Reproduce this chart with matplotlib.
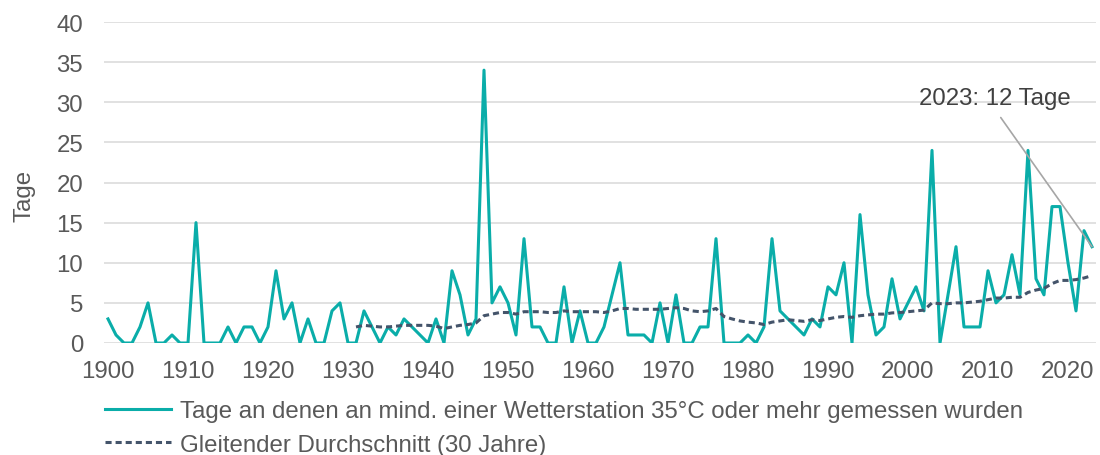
import matplotlib.pyplot as plt
import numpy as np

# Tage mit >= 35 °C an mind. einer Station, 1900-2023
years = np.arange(1900, 2024)
tage = [
    # 1900-1930
    3, 1, 0, 0, 2, 5, 0, 0, 1, 0, 0, 15, 0, 0, 0, 2, 0, 2, 2, 0,
    2, 9, 3, 5, 0, 3, 0, 0, 4, 5, 0,
    # 1931-1959
    0, 4, 2, 0, 2, 1, 3, 2, 1, 0, 3, 0, 9, 6, 1, 3, 34, 5, 7, 5,
    1, 13, 2, 2, 0, 0, 7, 0, 4,
    # 1960-1985
    0, 0, 2, 6, 10, 1, 1, 1, 0, 5, 0, 6, 0, 0, 2, 2, 13, 0, 0, 0,
    1, 0, 2, 13, 4, 3,
    # 1986-2023
    2, 1, 3, 2, 7, 6, 10, 0, 16, 6, 1, 2, 8, 3, 5, 7, 4, 24, 0, 6,
    12, 2, 2, 2, 9, 5, 6, 11, 6, 24, 8, 6, 17, 17, 10, 4, 14, 12,
]

# gleitender Durchschnitt (30 Jahre), ab 1931
avg_years = np.arange(1931, 2024)
avg30 = [
    2.0, 2.2, 2.1, 2.0, 2.0, 2.1, 2.2, 2.2, 2.2, 2.2,
    2.1, 1.8, 2.0, 2.2, 2.3, 2.5, 3.4, 3.6, 3.8, 3.8,
    3.6, 3.9, 3.9, 3.9, 3.8, 3.8, 4.0, 3.9, 3.9, 3.9,
    3.9, 3.8, 4.0, 4.3, 4.3, 4.2, 4.2, 4.2, 4.2, 4.3,
    4.4, 4.3, 4.0, 3.9, 4.0, 4.3, 3.3, 3.0, 2.75, 2.6,
    2.5, 2.3, 2.6, 2.75, 2.9, 2.8, 2.7, 2.9, 2.8, 3.0,
    3.2, 3.3, 3.2, 3.4, 3.5, 3.6, 3.6, 3.75, 3.8, 3.9,
    4.0, 4.1, 5.0, 4.9, 4.9, 5.0, 5.0, 5.1, 5.2, 5.4,
    5.6, 5.6, 5.7, 5.7, 6.3, 6.6, 6.8, 7.4, 7.8, 7.8,
    7.9, 8.1, 8.4,
]

xticks = np.arange(1900, 2021, 10)
yticks = np.arange(0, 41, 5)

label_main = "Tage an denen an mind. einer Wetterstation 35°C oder mehr gemessen wurden"
label_avg = "Gleitender Durchschnitt (30 Jahre)"

teal = "#0AADA9"
navy = "#44546A"
txt = "#595959"
fs = 17.3

plt.rcParams["font.family"] = ["Liberation Sans", "DejaVu Sans"]
plt.rcParams["font.size"] = fs

fig = plt.figure(figsize=(11, 4.56), dpi=100)
ax = fig.add_axes([104 / 1100, 112 / 456, 992 / 1100, 321 / 456])

ax.plot(years, tage, color=teal, lw=2.2, label=label_main, zorder=3)
ax.plot(avg_years, avg30, color=navy, lw=2.2, ls=(0, (2, 1.3)),
        dash_capstyle="butt", label=label_avg, zorder=4)

ax.set_xlim(1899.5, 2023.5)
ax.set_ylim(0, 40)
ax.set_xticks(xticks)
ax.set_yticks(yticks)
ax.grid(axis="y", color="#D9D9D9", lw=1.1)
ax.set_axisbelow(True)
for s in ax.spines.values():
    s.set_visible(False)
ax.tick_params(length=0, colors=txt, labelsize=fs)
ax.tick_params(axis="y", pad=15)
ax.tick_params(axis="x", pad=12)

fig.text(25 / 1100, 1 - 196 / 456, "Tage", rotation=90, ha="center", va="center",
         color=txt, fontsize=fs)

ax.annotate("2023: 12 Tage", xy=(years[-1], tage[-1]), xytext=(-70, 107),
            textcoords="offset points", ha="center", va="center",
            color="#404040", fontsize=fs,
            arrowprops=dict(arrowstyle="-", color="#A6A6A6", lw=1.2,
                            relpos=(0.5, 0), shrinkA=5, shrinkB=0))

fig.legend(loc="upper left", bbox_to_anchor=(105 / 1100, 1 - 401 / 456),
           frameon=False, borderpad=0, borderaxespad=0, handlelength=2.75,
           handletextpad=0.37, labelspacing=0.48, fontsize=fs, labelcolor=txt)

fig.savefig("out.png", dpi=100)
